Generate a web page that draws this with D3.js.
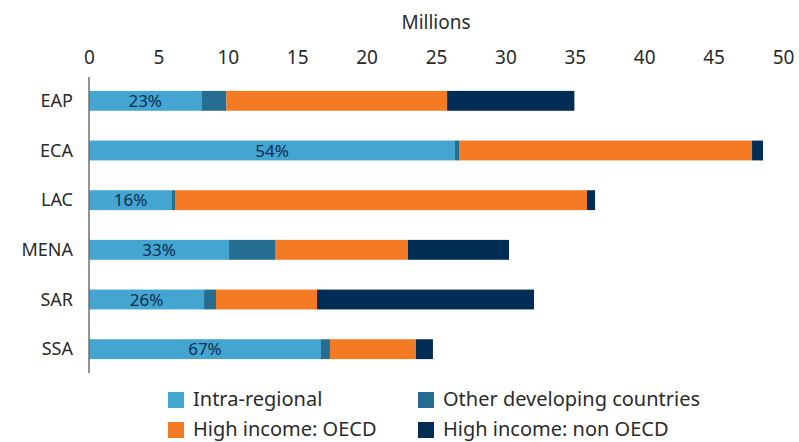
<!DOCTYPE html>
<html>
<head>
<meta charset="utf-8">
<script src="https://cdn.jsdelivr.net/npm/d3@7"></script>
<style>
  body { margin: 0; background: #fff; }
  text { font-family: "Noto Sans", Lato, sans-serif; }
</style>
</head>
<body>
<script>
// Regions and migrant stock by destination (millions)
const regions = ["EAP", "ECA", "LAC", "MENA", "SAR", "SSA"];
const intraRegional = [8.1, 26.37, 5.98, 10.09, 8.29, 16.71];
const otherDeveloping = [1.8, 0.29, 0.22, 3.31, 0.86, 0.65];
const highOECD = [15.9, 21.11, 29.68, 9.58, 7.28, 6.2];
const highNonOECD = [9.17, 0.79, 0.58, 7.28, 15.63, 1.22];
const shareLabels = ["23%", "54%", "16%", "33%", "26%", "67%"];
const xTicks = [0, 5, 10, 15, 20, 25, 30, 35, 40, 45, 50];

const seriesNames = ["Intra-regional", "Other developing countries", "High income: OECD", "High income: non OECD"];
const seriesColors = ["#43a5d0", "#256d91", "#f47a24", "#022e55"];

let width = 799, height = 442;
let margin = { top: 76, bottom: 68, left: 89, right: 16 };

// Build table for stacking
const table = regions.map((r, i) => ({
    region: r,
    "Intra-regional": intraRegional[i],
    "Other developing countries": otherDeveloping[i],
    "High income: OECD": highOECD[i],
    "High income: non OECD": highNonOECD[i]
}));

let svg = d3.select('body')
    .append('svg')
    .attr('width', width)
    .attr('height', height);

let xScale = d3.scaleLinear()
    .domain([0, 50])
    .range([margin.left, 783]);

let yScale = d3.scaleBand()
    .domain(regions)
    .range([margin.top, height - margin.bottom])
    .paddingInner(0.6)
    .paddingOuter(0.3);

// Top axis, labels only
let xAxis = svg.append('g')
    .attr('transform', 'translate(0,57)')
    .call(d3.axisTop(xScale).tickValues(xTicks).tickSize(0).tickPadding(0));
xAxis.select('.domain').remove();
xAxis.selectAll('text')
    .attr('dy', '0.35em')
    .style('font-size', '19px')
    .style('font-family', '"Noto Sans", Lato, sans-serif')
    .attr('fill', '#2b2b2b');

svg.append('text')
    .attr('x', xScale(25))
    .attr('y', 22)
    .attr('dy', '0.35em')
    .attr('text-anchor', 'middle')
    .style('font-size', '19px')
    .attr('fill', '#2b2b2b')
    .text('Millions');

// Stacked bars
const stack = d3.stack().keys(seriesNames);
const stacked = stack(table);

svg.selectAll('g.layer')
    .data(stacked)
    .enter().append('g')
    .attr('class', 'layer')
    .attr('fill', (d, i) => seriesColors[i])
    .selectAll('rect')
    .data(d => d)
    .enter().append('rect')
    .attr('x', d => xScale(d[0]))
    .attr('y', d => yScale(d.data.region))
    .attr('width', d => xScale(d[1]) - xScale(d[0]))
    .attr('height', yScale.bandwidth());

// Share labels centered in intra-regional segment
svg.selectAll('text.share')
    .data(regions)
    .enter().append('text')
    .attr('class', 'share')
    .attr('x', (d, i) => xScale(intraRegional[i] / 2))
    .attr('y', d => yScale(d) + yScale.bandwidth() / 2)
    .attr('dy', '0.36em')
    .attr('text-anchor', 'middle')
    .style('font-size', '17px')
    .attr('fill', '#0c2f52')
    .text((d, i) => shareLabels[i]);

// Vertical axis line
svg.append('line')
    .attr('x1', margin.left).attr('x2', margin.left)
    .attr('y1', margin.top + 1).attr('y2', height - margin.bottom - 1)
    .attr('stroke', '#6f6f6f')
    .attr('stroke-width', 1.5);

// Category labels
svg.selectAll('text.cat')
    .data(regions)
    .enter().append('text')
    .attr('class', 'cat')
    .attr('x', 73)
    .attr('y', d => yScale(d) + yScale.bandwidth() / 2)
    .attr('dy', '0.35em')
    .attr('text-anchor', 'end')
    .style('font-size', '18px')
    .attr('fill', '#2b2b2b')
    .text(d => d);

// Legend, two columns
const legendX = [168, 418];
const legendY = [392, 422];
let legend = svg.selectAll('g.legend')
    .data(seriesNames)
    .enter().append('g')
    .attr('class', 'legend')
    .attr('transform', (d, i) => `translate(${legendX[i % 2]},${legendY[Math.floor(i / 2)]})`);

legend.append('rect')
    .attr('width', 16)
    .attr('height', 16)
    .attr('fill', (d, i) => seriesColors[i]);

legend.append('text')
    .attr('x', 25)
    .attr('y', 14)
    .style('font-size', '20px')
    .attr('fill', '#2b2b2b')
    .text(d => d);
</script>
</body>
</html>
